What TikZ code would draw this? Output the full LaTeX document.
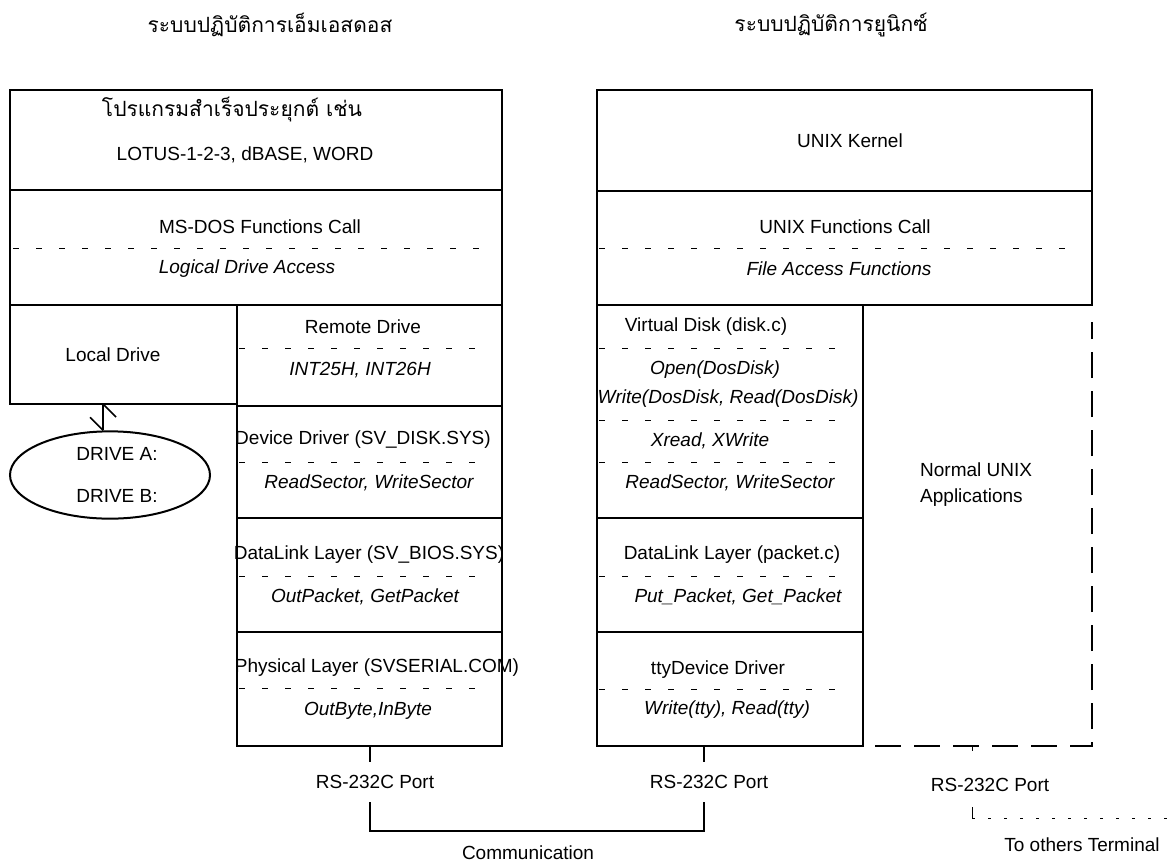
\documentclass[tikz,border=0pt]{standalone}
\usepackage{fontspec}
\setmainfont{Liberation Sans}
\newfontfamily\thaifont[Script=Thai]{Loma}
\usetikzlibrary{shapes.geometric}

\tikzset{
  layer/.style={line width=2.4pt},
  sep/.style={line width=1pt, dash pattern=on 6pt off 17pt},
  lbl/.style={inner sep=0pt, font=\fontsize{19}{26}\selectfont},
  fn/.style={inner sep=0pt, font=\fontsize{19}{26}\selectfont\itshape},
  thai/.style={inner sep=0pt, font=\fontsize{21}{26}\selectfont\thaifont},
  wire/.style={line width=2.2pt},
  serial/.style={line width=1.4pt, dash pattern=on 26pt off 13pt, dash phase=-12pt},
  dots/.style={line width=0.8pt, dash pattern=on 3pt off 13pt},
}

\begin{document}
\begin{tikzpicture}[x=1pt,y=-1pt]
\useasboundingbox (0,0) rectangle (1172,863);

% titles
\node[thai] (dostitle) at (270,25) {ระบบปฏิบัติการเอ็มเอสดอส};
\node[thai] (unixtitle) at (831,25) {ระบบปฏิบัติการยูนิกซ์};

% MS-DOS side
\draw[layer] (10,90) rectangle (502,190);
\draw[layer] (10,190) rectangle (502,305);
\draw[layer] (10,305) rectangle (237,404);
\draw[layer] (237,305) rectangle (502,406);
\draw[layer] (237,406) rectangle (502,518);
\draw[layer] (237,518) rectangle (502,632);
\draw[layer] (237,632) rectangle (502,746);
\draw[sep] (13,248)--(488,248);
\draw[sep] (239,348)--(488,348);
\draw[sep] (239,462)--(488,462);
\draw[sep] (239,576)--(488,576);
\draw[sep] (239,688)--(488,688);

\node[thai] (apps) at (232,110) {โปรแกรมสำเร็จประยุกต์ เช่น};
\node[lbl] (lotus) at (245,155) {LOTUS-1-2-3, dBASE, WORD};
\node[lbl] (doscall) at (260,227) {MS-DOS Functions Call};
\node[fn] (logical) at (247,269) {Logical Drive Access};
\node[lbl] (local) at (113,355) {Local Drive};
\node[lbl] (remote) at (363,327) {Remote Drive};
\node[fn] (int) at (360,370) {INT25H, INT26H};
\node[lbl] (svdisk) at (363,440) {Device Driver (SV\_DISK.SYS)};
\node[fn] (dossect) at (369,483) {ReadSector, WriteSector};
\node[lbl] (svbios) at (369,555) {DataLink Layer (SV\_BIOS.SYS)};
\node[fn] (dospkt) at (365,597) {OutPacket, GetPacket};
\node[lbl] (svserial) at (377,668) {Physical Layer (SVSERIAL.COM)};
\node[fn] (dosbyte) at (368,711) {OutByte,InByte};

\node[draw, ellipse, line width=2pt, minimum width=200pt, minimum height=85pt,
  align=center, font=\fontsize{19}{23}\selectfont] (drives) at (110,475)
  {\hspace*{14pt}DRIVE A:\\[19pt]\hspace*{14pt}DRIVE B:};
\coordinate (localbot) at (103,404);
\coordinate (drivetop) at ([xshift=-7pt]drives.north);
\draw[wire] (localbot) -- (drivetop);
\draw[line width=1.6pt] (localbot) -- ++(13,13);
\draw[line width=1.6pt] (drivetop) -- ++(-13,-13);

% UNIX side
\draw[layer] (597,90) rectangle (1092,191);
\draw[layer] (597,191) rectangle (1092,305);
\draw[layer] (597,305) rectangle (863,518);
\draw[layer] (597,518) rectangle (863,632);
\draw[layer] (597,632) rectangle (863,746);
\draw[sep] (599,248)--(1076,248);
\draw[sep] (599,348)--(850,348);
\draw[sep] (599,420)--(850,420);
\draw[sep] (599,462)--(850,462);
\draw[sep] (599,576)--(850,576);
\draw[sep] (599,689)--(850,689);

\node[lbl] (kernel) at (850,141) {UNIX Kernel};
\node[lbl] (unixcall) at (845,227) {UNIX Functions Call};
\node[fn] (fileacc) at (839,269) {File Access Functions};
\node[lbl] (vdisk) at (706,327) {Virtual Disk (disk.c)};
\node[fn] (open) at (715,370) {Open(DosDisk)};
\node[fn] (rw) at (728,399) {Write(DosDisk, Read(DosDisk)};
\node[fn] (xrw) at (710,441) {Xread, XWrite};
\node[fn] (unixsect) at (730,483) {ReadSector, WriteSector};
\node[lbl] (packetc) at (732,555) {DataLink Layer (packet.c)};
\node[fn] (unixpkt) at (738,597) {Put\_Packet, Get\_Packet};
\node[lbl] (tty) at (718,670) {ttyDevice Driver};
\node[fn] (ttyrw) at (727,710) {Write(tty), Read(tty)};
\node[lbl, align=left, anchor=west] (normal) at (920,485) {Normal UNIX\\Applications};

% serial ports
\coordinate (dosbot) at (370,746);
\coordinate (unixbot) at (704,746);
\coordinate (ttybot) at (863,746);
\coordinate (appcorner) at (1092,746);
\coordinate (apptop) at (1092,322);
\coordinate (termtap) at (972,746);
\node[lbl] (dosport) at (375,782) {RS-232C Port};
\node[lbl] (unixport) at (709,782) {RS-232C Port};
\node[lbl] (termport) at (990,785) {RS-232C Port};
\draw[wire] (dosbot) -- ++(0,16);
\draw[wire] (unixbot) -- ++(0,16);
\coordinate (dosjack) at (370,802);
\coordinate (unixjack) at (704,802);
\draw[wire] (dosjack) -- ++(0,29) -| (unixjack);
\node[lbl] (comm) at (528,853) {Communication};

\draw[serial] (ttybot) -- (appcorner) -- (apptop);
\draw[line width=1pt] (termtap) -- ++(0,5);
\coordinate (termjack) at (972,807);
\draw[line width=0.6pt] (termjack) -- ++(0,11);
\draw[dots] (972,818) -- (1172,818);
\node[lbl] (others) at (1082,845) {To others Terminal};
\end{tikzpicture}
\end{document}
